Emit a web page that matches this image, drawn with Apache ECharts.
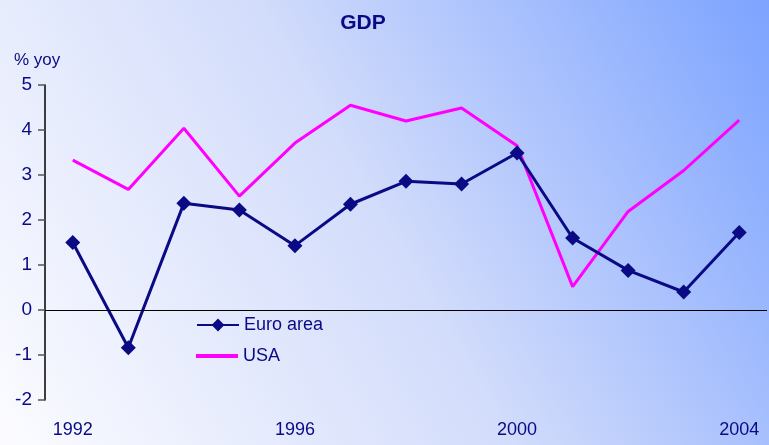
<!DOCTYPE html>
<html><head><meta charset="utf-8">
<script src="https://cdn.jsdelivr.net/npm/echarts@6/dist/echarts.min.js"></script>
<style>html,body{margin:0;padding:0;}#c{width:769px;height:445px;}</style>
</head><body><div id="c"></div>
<script>
const years = ['1992','1993','1994','1995','1996','1997','1998','1999','2000','2001','2002','2003','2004'];
const euroArea = [1.5, -0.84, 2.37, 2.22, 1.43, 2.35, 2.86, 2.8, 3.49, 1.6, 0.88, 0.4, 1.72];
const usa = [3.33, 2.68, 4.04, 2.53, 3.71, 4.55, 4.2, 4.49, 3.65, 0.52, 2.19, 3.1, 4.22];
const yTicks = {min: -2, max: 5, interval: 1};

const FONT = 'Liberation Sans, Arial, sans-serif';
const NAVY = '#0a0a85';
const legendText = {fontFamily: FONT, fontSize: 18, color: NAVY};
const chart = echarts.init(document.getElementById('c'));
chart.setOption({
  animation: false,
  backgroundColor: new echarts.graphic.LinearGradient(0, 1, 1, 0, [
    {offset: 0, color: '#fcfcff'},
    {offset: 0.5, color: '#d2dcfb'},
    {offset: 1, color: '#7ca3ff'}
  ]),
  textStyle: {fontFamily: FONT},
  title: {text: 'GDP', left: 358, top: 8, textAlign: 'center',
    textStyle: {fontFamily: FONT, fontSize: 21, fontWeight: 'bold', color: NAVY}},
  graphic: [{type: 'text', left: 14, top: 52,
    style: {text: '% yoy', fontFamily: FONT, fontSize: 17, fill: NAVY}}],
  legend: [
    {left: 191, top: 311, itemWidth: 42, itemHeight: 16, itemGap: 5,
      textStyle: legendText, data: ['Euro area']},
    {left: 191, top: 342, itemWidth: 42, itemHeight: 4, icon: 'rect', itemGap: 5,
      textStyle: legendText, data: ['USA']}
  ],
  grid: {left: 45, right: 2, top: 85, bottom: 45, containLabel: false},
  xAxis: {type: 'category', data: years, boundaryGap: true,
    axisLine: {show: false, onZero: false}, axisTick: {show: false},
    axisLabel: {interval: 3, fontFamily: FONT, fontSize: 18, color: NAVY, margin: 21}},
  yAxis: {type: 'value', min: yTicks.min, max: yTicks.max, interval: yTicks.interval,
    splitLine: {show: false},
    axisLine: {show: true, lineStyle: {color: '#000', width: 1.5}},
    axisTick: {show: true, length: 7, lineStyle: {color: '#555', width: 1.5}},
    axisLabel: {fontFamily: FONT, fontSize: 19, color: NAVY, margin: 13}},
  series: [
    {name: 'Euro area', type: 'line', data: euroArea, symbol: 'diamond', symbolSize: 15,
      color: NAVY, lineStyle: {width: 3, color: NAVY}, itemStyle: {color: NAVY}, z: 3,
      markLine: {silent: true, symbol: 'none', label: {show: false},
        lineStyle: {color: '#000', width: 1, type: 'solid'}, data: [{yAxis: 0}]}},
    {name: 'USA', type: 'line', data: usa, symbol: 'none', showSymbol: false,
      color: '#ff00ff', lineStyle: {width: 3, color: '#ff00ff'}, itemStyle: {color: '#ff00ff'}, z: 2}
  ]
});
</script></body></html>
